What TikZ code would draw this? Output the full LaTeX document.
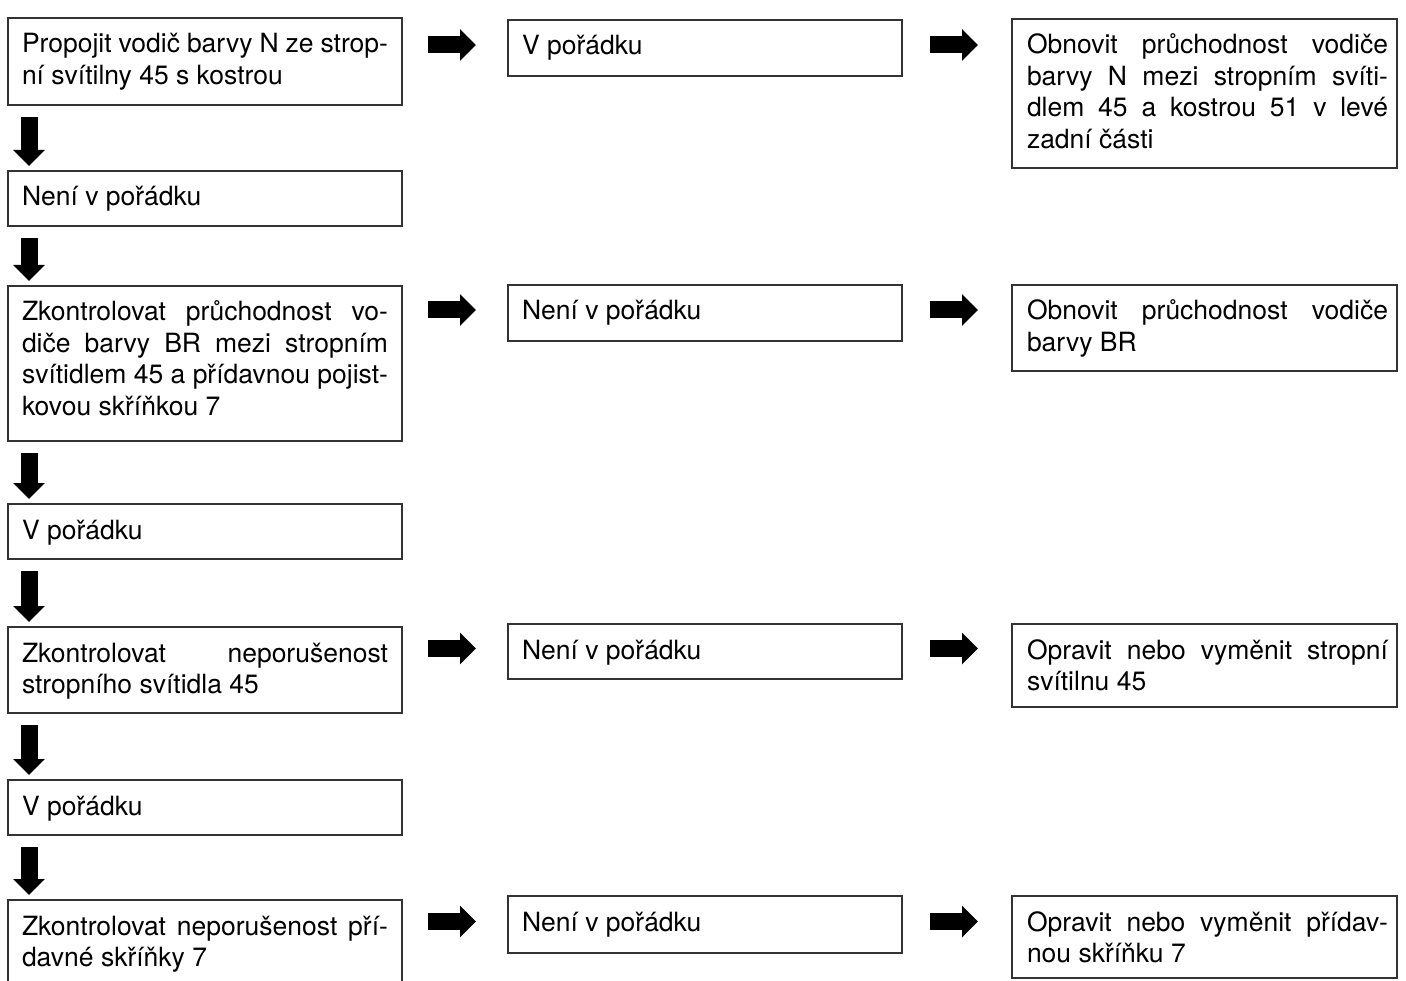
\documentclass[tikz,border=0pt]{standalone}
\usepackage{fontspec}
\setmainfont{TeX Gyre Heros}
\usetikzlibrary{arrows.meta}
\hbadness=10000
\hfuzz=20pt

% one justified line filling the text width
\newcommand\jline[1]{\makebox[\dimexpr\linewidth-\leftskip\relax][s]{#1}\\}
% a step box: name, left, top, text width, height, text
\newcommand\flowbox[6]{%
  \node[stepbox, anchor=north west] (#1) at (#2,#3)
    {\parbox[t][#5pt][t]{#4pt}{\rule{0pt}{35pt}#6}};}
% the same with a narrower right margin
\newcommand\flowboxr[6]{%
  \node[stepbox, inner xsep=9pt, anchor=north west] (#1) at (#2,#3)
    {\parbox[t][#5pt][t]{#4pt}{\leftskip=6pt\rule{0pt}{35pt}#6}};}

\tikzset{
  stepbox/.style={draw=black!80, line width=1.2pt, fill=white,
    inner xsep=14pt, inner ysep=0pt, outer sep=0pt,
    font=\fontsize{26.5}{31.5}\selectfont, text=black},
  bigarrow/.style={line width=17pt, black,
    -{Triangle[length=16pt, width=31pt]}}
}

\begin{document}
\begin{tikzpicture}[x=1pt, y=-1pt]
\fill[white] (0,0) rectangle (1406,981);
\useasboundingbox (0,0) rectangle (1406,981);
\begin{scope}
\clip (0,0) rectangle (1406,981);

% left column
\flowbox{L1}{8}{18}{366}{87}{\jline{Propojit vodič barvy N ze strop-}ní svítilny 45 s kostrou}
\flowbox{L2}{8}{171}{366}{55}{Není v pořádku}
\flowbox{L3}{8}{286}{366}{155}{\jline{Zkontrolovat průchodnost vo-}\jline{diče barvy BR mezi stropním}\jline{svítidlem 45 a přídavnou pojist-}kovou skříňkou 7}
\flowbox{L4}{8}{504}{366}{55}{V pořádku}
\flowbox{L5}{8}{627}{366}{86}{\jline{Zkontrolovat neporušenost}stropního svítidla 45}
\flowbox{L6}{8}{780}{366}{55}{V pořádku}
\flowbox{L7}{8}{900}{366}{110}{\jline{Zkontrolovat neporušenost pří-}davné skříňky 7}

% middle column
\flowbox{M1}{508}{20}{366}{56}{V pořádku}
\flowbox{M3}{508}{285}{366}{56}{Není v pořádku}
\flowbox{M5}{508}{624}{366}{55}{Není v pořádku}
\flowbox{M7}{508}{896}{366}{57}{Není v pořádku}

% right column
\flowboxr{R1}{1012}{19}{367}{149}{\jline{Obnovit průchodnost vodiče}\jline{barvy N mezi stropním svíti-}\jline{dlem 45 a kostrou 51 v levé}zadní části}
\flowboxr{R3}{1012}{285}{367}{86}{\jline{Obnovit průchodnost vodiče}barvy BR}
\flowboxr{R5}{1012}{624}{367}{83}{\jline{Opravit nebo vyměnit stropní}svítilnu 45}
\flowboxr{R7}{1012}{896}{367}{82}{\jline{Opravit nebo vyměnit přídav-}nou skříňku 7}

% downward arrows
\foreach \a/\b in {L1/L2, L2/L3, L3/L4, L4/L5, L5/L6, L6/L7}
  \draw[bigarrow] ([xshift=21pt, yshift=-12pt]\a.south west)
                -- ([xshift=21pt, yshift=5pt]\b.north west);

% rightward arrows
\foreach \a/\b/\c in {L1/M1/R1, L3/M3/R3, L5/M5/R5, L7/M7/R7} {
  \draw[bigarrow] ([xshift=26pt, yshift=3pt]\a.east |- \b.west)
                -- ([xshift=-32pt, yshift=3pt]\b.west);
  \draw[bigarrow] ([xshift=28pt, yshift=3pt]\b.east)
                -- ([xshift=-34pt, yshift=3pt]\c.west |- \b.east);
}
\end{scope}
\end{tikzpicture}
\end{document}
